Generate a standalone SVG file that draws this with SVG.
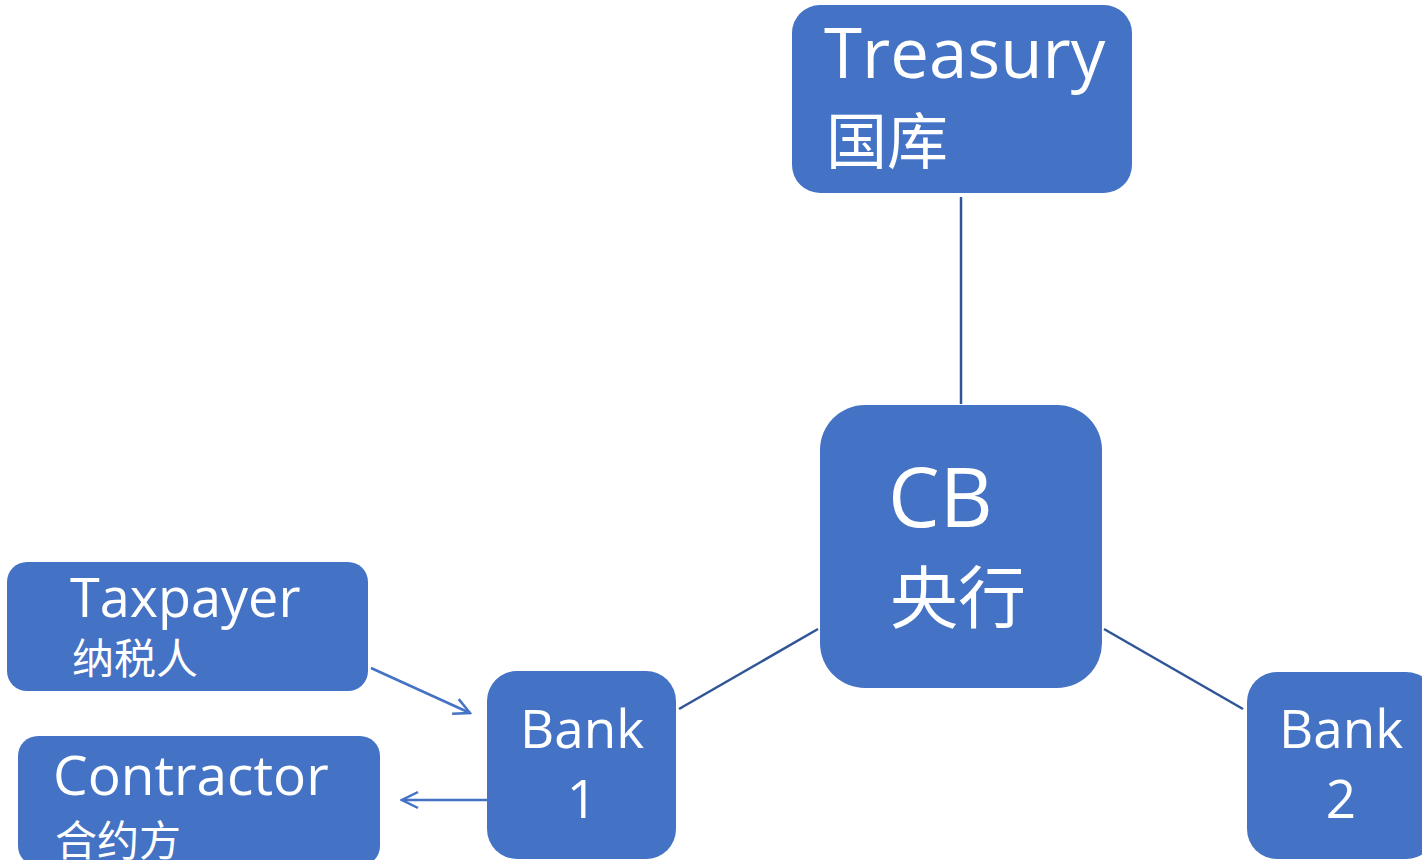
<svg xmlns="http://www.w3.org/2000/svg" width="1422" height="860" viewBox="0 0 1422 860">
<style>
.box{fill:#4472C4;}
.t{fill:#ffffff;font-family:"Open Sans","Noto Sans CJK SC",sans-serif;}
.line{stroke:#2F5597;stroke-width:2.5;fill:none;}
.arr{stroke:#4472C4;stroke-width:2.5;fill:none;}
</style>
<defs>
<marker id="open" viewBox="0 0 20 20" refX="18" refY="10" markerWidth="20" markerHeight="20" markerUnits="userSpaceOnUse" orient="auto">
<path d="M2,2 L18,10 L2,18" fill="none" stroke="#4472C4" stroke-width="2.5"/>
</marker>
</defs>
<rect width="1422" height="860" fill="#ffffff"/>
<g id="connectors">
<line class="line" x1="961" y1="197" x2="961" y2="404"/>
<line class="line" x1="679" y1="709" x2="818" y2="629"/>
<line class="line" x1="1104" y1="629" x2="1243" y2="709"/>
<line class="arr" x1="371" y1="668" x2="470" y2="713" marker-end="url(#open)"/>
<line class="arr" x1="487" y1="800" x2="402" y2="800" marker-end="url(#open)"/>
</g>
<g id="treasury">
<rect class="box" x="792" y="5" width="340" height="188" rx="28"/>
<text class="t" x="824" y="78" font-size="69">Treasury</text>
<text class="t" x="826" y="164" font-size="61">国库</text>
</g>
<g id="cb">
<rect class="box" x="820" y="405" width="282" height="283" rx="45"/>
<text class="t" x="888" y="527" font-size="82">CB</text>
<text class="t" x="890" y="623" font-size="68">央行</text>
</g>
<g id="taxpayer">
<rect class="box" x="7" y="562" width="361" height="129" rx="20"/>
<text class="t" x="70" y="617" font-size="54">Taxpayer</text>
<text class="t" x="72" y="674" font-size="42">纳税人</text>
</g>
<g id="contractor">
<rect class="box" x="18" y="736" width="362" height="130" rx="20"/>
<text class="t" x="53" y="795" font-size="55">Contractor</text>
<text class="t" x="55" y="856" font-size="42">合约方</text>
</g>
<g id="bank1">
<rect class="box" x="487" y="671" width="189" height="188" rx="30"/>
<text class="t" x="582" y="748" font-size="53" text-anchor="middle">Bank</text>
<text class="t" x="582" y="818" font-size="53" text-anchor="middle">1</text>
</g>
<g id="bank2">
<rect class="box" x="1247" y="672" width="189" height="187" rx="30"/>
<text class="t" x="1341" y="748" font-size="53" text-anchor="middle">Bank</text>
<text class="t" x="1341" y="818" font-size="53" text-anchor="middle">2</text>
</g>
</svg>
